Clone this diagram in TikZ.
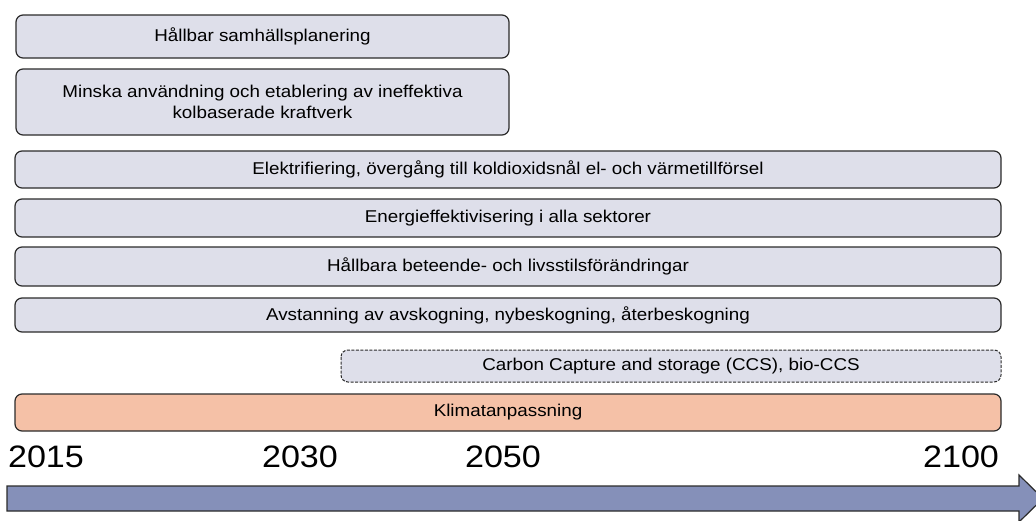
\documentclass[tikz,border=0pt]{standalone}
\usepackage{fontspec}
\setmainfont{Liberation Sans}[FakeStretch=1.1]
\definecolor{boxfill}{HTML}{DEDFEA}
\definecolor{orangefill}{HTML}{F5C1A7}
\definecolor{arrowfill}{HTML}{8590B9}
\definecolor{edge}{HTML}{2B2B2B}
\tikzset{
  bar/.style={draw=edge, line width=1.2pt, fill=boxfill, rounded corners=7pt},
  bartext/.style={font=\fontsize{17.1}{21}\selectfont, align=center, inner sep=0pt},
  yeartext/.style={font=\fontsize{31}{36}\selectfont, anchor=base, inner sep=0pt}
}
\begin{document}
\begin{tikzpicture}[x=1pt,y=-1pt]
\useasboundingbox (0,0) rectangle (1036,520);
\clip (0,0) rectangle (1036,520);
% bars
\draw[bar] (16,15) rectangle (509,58);
\node[bartext] (b1) at (262.5,36.5) {Hållbar samhällsplanering};
\draw[bar] (16,69) rectangle (509,135);
\node[bartext] (b2) at (262.5,102) {Minska användning och etablering av ineffektiva\\kolbaserade kraftverk};
\draw[bar] (15,151) rectangle (1001,188);
\node[bartext] (b3) at (508,169.5) {Elektrifiering, övergång till koldioxidsnål el- och värmetillförsel};
\draw[bar] (15,199) rectangle (1001,237);
\node[bartext] (b4) at (508,218) {Energieffektivisering i alla sektorer};
\draw[bar] (15,247) rectangle (1001,286);
\node[bartext] (b5) at (508,266.5) {Hållbara beteende- och livsstilsförändringar};
\draw[bar] (15,298) rectangle (1001,332);
\node[bartext] (b6) at (508,315) {Avstanning av avskogning, nybeskogning, återbeskogning};
\draw[bar, dashed, dash pattern=on 3pt off 1.5pt, line width=1pt] (341,350) rectangle (1001,382);
\node[bartext] (b7) at (671,366) {Carbon Capture and storage (CCS), bio-CCS};
\draw[bar, fill=orangefill] (15,394) rectangle (1001,431);
\node[bartext] (b8) at (508,412.5) {Klimatanpassning};
% years
\node[yeartext] (y1) at (46,467) {2015};
\node[yeartext] (y2) at (300,467) {2030};
\node[yeartext] (y3) at (503,467) {2050};
\node[yeartext] (y4) at (961,467) {2100};
% arrow
\draw[draw=edge, line width=1.2pt, fill=arrowfill]
  (7,486) -- (1019,486) -- (1019,475) -- (1043,498.5) -- (1019,522) -- (1019,511) -- (7,511) -- cycle;
\end{tikzpicture}
\end{document}
